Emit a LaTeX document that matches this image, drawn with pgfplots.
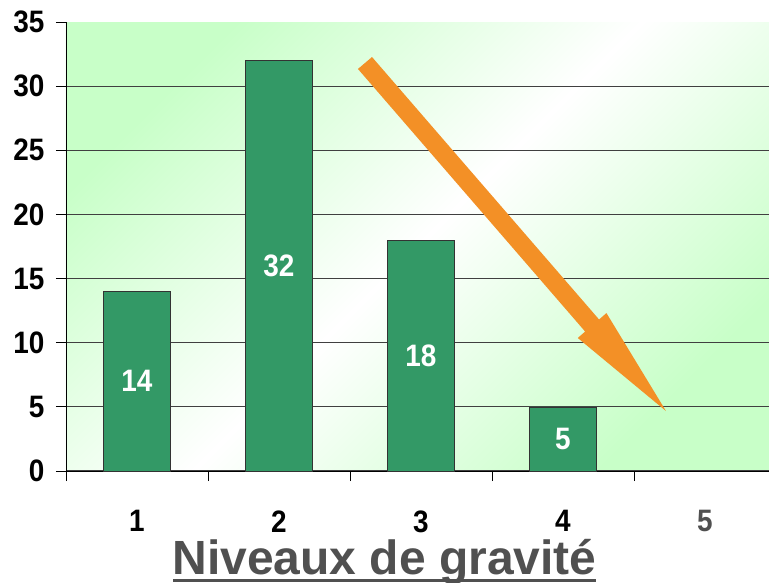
\documentclass[border=0pt]{standalone}
\usepackage{pgfplots}
\pgfplotsset{compat=1.18}
\usepackage{fontspec}
\setmainfont{Liberation Sans}
\newfontfamily\numfont[FakeStretch=0.9]{Liberation Sans}
\newcommand{\nf}{\numfont\fontsize{31}{32}\selectfont\bfseries}
\definecolor{bgG}{RGB}{200,255,200}
\definecolor{barG}{RGB}{51,153,102}
\definecolor{arrowO}{RGB}{243,144,38}
\definecolor{lblG}{RGB}{80,80,80}
\begin{document}
\begin{tikzpicture}
\begin{axis}[
  at={(0,0)}, anchor=south west,
  scale only axis, width=703pt, height=449pt,
  xmin=0.5, xmax=5.4507, ymin=0, ymax=35,
  axis lines*=left,
  xtick={0.5,1.5,2.5,3.5,4.5}, xticklabels={},
  extra x ticks={1,2,3,4,5}, extra x tick labels={{\nf 1},{\nf 2},{\nf 3},{\nf 4},{\nf\color{lblG}5}},
  extra x tick style={major tick length=0pt, xticklabel style={anchor=north, yshift=-36pt}},
  ytick={0,5,...,30}, extra y ticks={35}, extra y tick style={grid=none},
  ymajorgrids, grid style={black!75, line width=1.2pt},
  tick align=outside, major tick length=10pt,
  tick style={black, line width=0.8pt},
  yticklabel={\nf\pgfmathprintnumber{\tick}},
  yticklabel style={xshift=-8pt},
  /pgf/number format/assume math mode=true,
  axis line style={black, line width=0.8pt},
  axis background/.style={top color=bgG, bottom color=bgG, middle color=white, shading angle=45},
]
\addplot[ybar, bar width=67pt, fill=barG, draw=black!80, line width=0.6pt] coordinates {(1,14) (2,32) (3,18) (4,5)};
\addplot[draw=none, mark=none, nodes near coords={\nf\pgfplotspointmeta}, point meta=explicit symbolic,
  every node near coord/.append style={anchor=center, text=white}]
  coordinates {(1,7)[14] (2,16)[32] (3,9)[18] (4,2.5)[5]};
\fill[arrowO] (axis cs:2.556,31.34) -- (axis cs:4.156,10.87) -- (axis cs:4.104,10.37) -- (axis cs:4.725,4.677) -- (axis cs:4.306,12.31) -- (axis cs:4.254,11.81) -- (axis cs:2.655,32.27) -- cycle;
\end{axis}
\node[anchor=base, font=\fontsize{48}{50}\selectfont\bfseries, text=lblG, inner sep=0] at (318.5pt,-103.5pt) {Niveaux de gravité};
\fill[lblG] (107pt,-110.5pt) rectangle (530pt,-107.5pt);
\pgfresetboundingbox
\path (-66pt,-111pt) rectangle (703pt,471pt);
\end{tikzpicture}
\end{document}
